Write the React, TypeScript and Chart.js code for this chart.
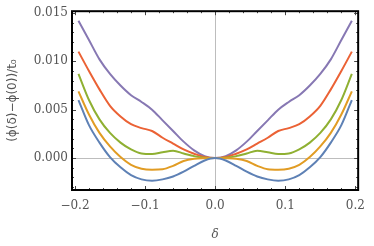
import React, { useEffect, useRef } from "react";
import { Chart, registerables } from "chart.js";
Chart.register(...registerables);

const deltas = [-0.195, -0.18, -0.165, -0.15, -0.135, -0.12, -0.105, -0.09, -0.075, -0.06, -0.045, -0.03, -0.015, 0, 0.015, 0.03, 0.045, 0.06, 0.075, 0.09, 0.105, 0.12, 0.135, 0.15, 0.165, 0.18, 0.195];
const blueVals = [0.006, 0.0034, 0.0016, 0.0001, -0.00096, -0.00176, -0.0022, -0.00234, -0.0022, -0.0019, -0.0014, -0.0008, -0.00025, 0, -0.00025, -0.0008, -0.0014, -0.0019, -0.0022, -0.00234, -0.0022, -0.00176, -0.00096, 0.0001, 0.0016, 0.0034, 0.006];
const orangeVals = [0.0069, 0.0045, 0.0026, 0.0012, 0.0001, -0.0007, -0.0011, -0.0012, -0.00115, -0.0008, -0.0003, -0.00008, -0.00002, 0, -0.00002, -0.00008, -0.0003, -0.0008, -0.00115, -0.0012, -0.0011, -0.0007, 0.0001, 0.0012, 0.0026, 0.0045, 0.0069];
const greenVals = [0.0087, 0.006, 0.004, 0.0026, 0.0016, 0.0009, 0.00048, 0.00042, 0.0006, 0.00075, 0.00048, 0.0002, 0.00004, 0, 0.00004, 0.0002, 0.00048, 0.00075, 0.0006, 0.00042, 0.00048, 0.0009, 0.0016, 0.0026, 0.004, 0.006, 0.0087];
const redVals = [0.011, 0.009, 0.0071, 0.0054, 0.0043, 0.0035, 0.0031, 0.0028, 0.0021, 0.0015, 0.0009, 0.00045, 0.0001, 0, 0.0001, 0.00045, 0.0009, 0.0015, 0.0021, 0.0028, 0.0031, 0.0035, 0.0043, 0.0054, 0.0071, 0.009, 0.011];
const purpleVals = [0.0142, 0.0122, 0.0102, 0.0087, 0.0075, 0.0065, 0.0058, 0.005, 0.0039, 0.0028, 0.0017, 0.0008, 0.0002, 0, 0.0002, 0.0008, 0.0017, 0.0028, 0.0039, 0.005, 0.0058, 0.0065, 0.0075, 0.0087, 0.0102, 0.0122, 0.0142];

const xTicks = [-0.2, -0.1, 0, 0.1, 0.2];
const yTicks = [0, 0.005, 0.01, 0.015];
const xMinor = [-0.2, -0.18, -0.16, -0.14, -0.12, -0.1, -0.08, -0.06, -0.04, -0.02, 0, 0.02, 0.04, 0.06, 0.08, 0.1, 0.12, 0.14, 0.16, 0.18, 0.2];
const yMinor = [-0.003, -0.002, -0.001, 0, 0.001, 0.002, 0.003, 0.004, 0.005, 0.006, 0.007, 0.008, 0.009, 0.01, 0.011, 0.012, 0.013, 0.014, 0.015];

const seriesList = [
  { vals: blueVals, color: "#5E81B5" },
  { vals: orangeVals, color: "#E19C24" },
  { vals: greenVals, color: "#8FB032" },
  { vals: redVals, color: "#EB6235" },
  { vals: purpleVals, color: "#8778B3" },
];

const framePlugin = {
  id: "mmaFrame",
  beforeDatasetsDraw(chart: any) {
    const { ctx, chartArea, scales } = chart;
    const { left, right, top, bottom } = chartArea;
    const x0 = Math.round(scales.x.getPixelForValue(0)) + 0.5;
    const y0 = Math.round(scales.y.getPixelForValue(0)) + 0.5;
    ctx.save();
    ctx.strokeStyle = "#bdbdbd";
    ctx.lineWidth = 1;
    ctx.beginPath();
    ctx.moveTo(x0, top);
    ctx.lineTo(x0, bottom);
    ctx.moveTo(left, y0);
    ctx.lineTo(right, y0);
    ctx.stroke();
    ctx.restore();
  },
  afterDraw(chart: any) {
    const { ctx, chartArea, scales } = chart;
    const { left, right, top, bottom } = chartArea;
    ctx.save();
    ctx.strokeStyle = "#444";
    ctx.lineWidth = 1;
    ctx.beginPath();
    xMinor.forEach((v) => {
      const px = Math.round(scales.x.getPixelForValue(v)) + 0.5;
      const len = xTicks.some((t) => Math.abs(t - v) < 1e-9) ? 4 : 2;
      ctx.moveTo(px, bottom);
      ctx.lineTo(px, bottom - len);
      ctx.moveTo(px, top);
      ctx.lineTo(px, top + len);
    });
    yMinor.forEach((v) => {
      const py = Math.round(scales.y.getPixelForValue(v)) + 0.5;
      const len = yTicks.some((t) => Math.abs(t - v) < 1e-9) ? 4 : 2;
      ctx.moveTo(left, py);
      ctx.lineTo(left + len, py);
      ctx.moveTo(right, py);
      ctx.lineTo(right - len, py);
    });
    ctx.stroke();
    ctx.strokeStyle = "#000";
    ctx.lineWidth = 2;
    ctx.strokeRect(left, top, right - left, bottom - top);
    ctx.restore();
  },
};

export default function App() {
  const ref = useRef<HTMLCanvasElement>(null);
  useEffect(() => {
    if (!ref.current) return;
    const chart = new Chart(ref.current, {
      type: "line",
      data: {
        datasets: seriesList.map((s) => ({
          data: deltas.map((d, i) => ({ x: d, y: s.vals[i] })),
          borderColor: s.color,
          borderWidth: 2,
          pointRadius: 0,
          fill: false,
          cubicInterpolationMode: "monotone" as const,
        })),
      },
      options: {
        animation: false,
        responsive: false,
        layout: { padding: { left: 0, top: 11, right: 10.3, bottom: 0 } },
        plugins: { legend: { display: false }, tooltip: { enabled: false } },
        scales: {
          x: {
            type: "linear",
            min: -0.2042,
            max: 0.204,
            afterBuildTicks: (scale: any) => {
              scale.ticks = xTicks.map((v) => ({ value: v }));
            },
            afterFit: (scale: any) => {
              scale.height = 56;
            },
            grid: { display: false, drawTicks: false },
            border: { display: false },
            ticks: {
              padding: 9,
              color: "#555",
              font: { family: "DejaVu Serif", size: 12 },
              maxRotation: 0,
              callback: (v: any) => Number(v).toFixed(1).replace("-", "\u2212"),
            },
            title: {
              display: true,
              text: "δ",
              color: "#555",
              font: { family: "DejaVu Serif", size: 12, style: "italic" },
              padding: { top: 0, bottom: 4 },
            },
          },
          y: {
            type: "linear",
            min: -0.0033,
            max: 0.01518,
            afterBuildTicks: (scale: any) => {
              scale.ticks = yTicks.map((v) => ({ value: v }));
            },
            afterFit: (scale: any) => {
              scale.width = 72;
            },
            grid: { display: false, drawTicks: false },
            border: { display: false },
            ticks: {
              padding: 4,
              color: "#555",
              font: { family: "DejaVu Serif", size: 12 },
              callback: (v: any) => Number(v).toFixed(3),
            },
            title: {
              display: true,
              text: "(ϕ(δ)−ϕ(0))/t₀",
              color: "#555",
              font: { family: "DejaVu Sans", size: 12 },
              padding: { top: 6, bottom: 0 },
            },
          },
        },
      },
      plugins: [framePlugin],
    } as any);
    return () => chart.destroy();
  }, []);
  return (
    <div style={{ position: "fixed", left: 0, top: 0, width: 374, height: 246, background: "#fff" }}>
      <canvas ref={ref} width={374} height={246} style={{ width: 374, height: 246, display: "block" }} />
    </div>
  );
}
